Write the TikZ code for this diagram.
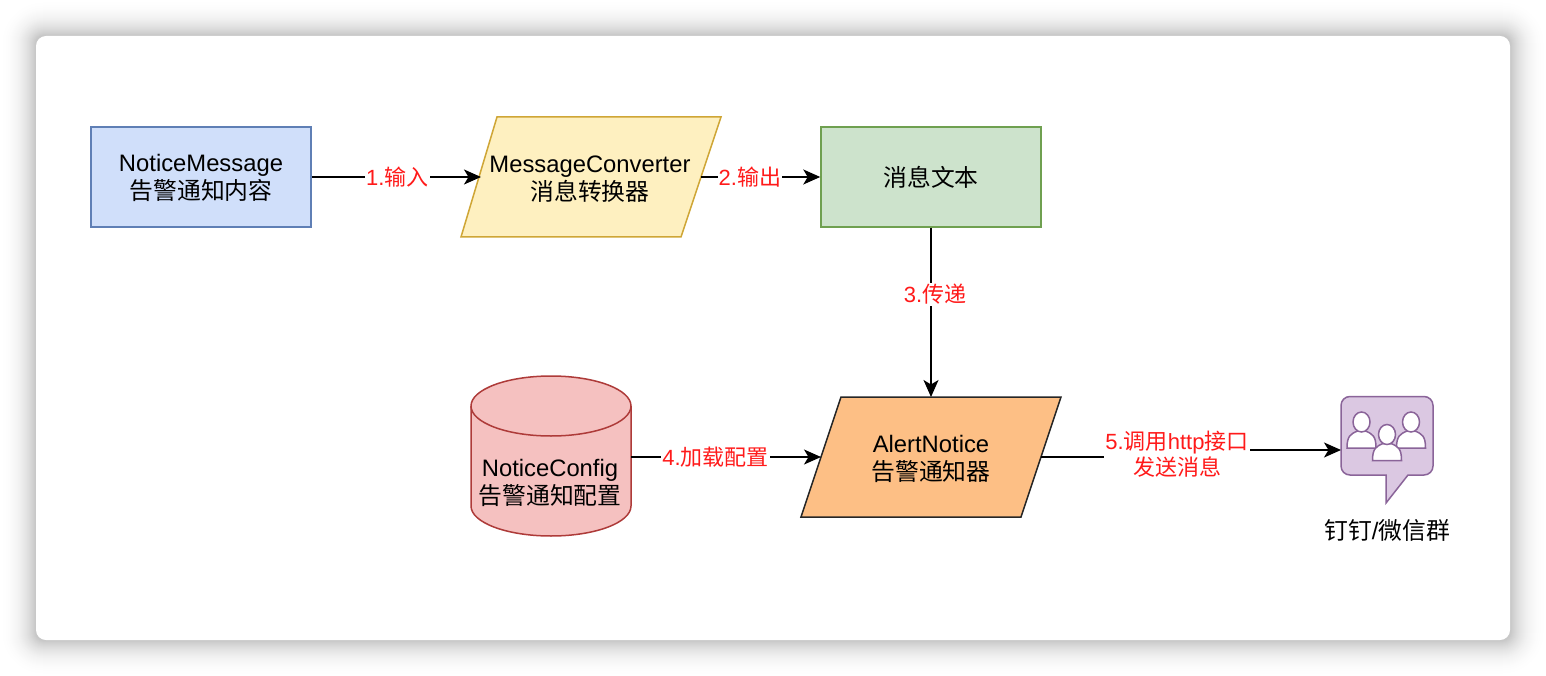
\documentclass[tikz,border=0pt]{standalone}
\usepackage{fontspec}
\setmainfont{Liberation Sans}
\newfontfamily\cjk{Noto Sans CJK SC}
\usetikzlibrary{arrows.meta}
\definecolor{bluefill}{HTML}{D0DFFA}\definecolor{bluestroke}{HTML}{5F7FB5}
\definecolor{yellowfill}{HTML}{FEF0C0}\definecolor{yellowstroke}{HTML}{CFA636}
\definecolor{greenfill}{HTML}{CDE3CC}\definecolor{greenstroke}{HTML}{6FA050}
\definecolor{redfill}{HTML}{F5C1C0}\definecolor{redstroke}{HTML}{AE3B39}
\definecolor{orangefill}{HTML}{FDBF85}
\definecolor{purplefill}{HTML}{DBC8E2}\definecolor{purplestroke}{HTML}{8A6499}
\definecolor{labelred}{HTML}{FF1A1A}
\tikzset{
  x=1pt,y=-1pt,
  box/.style={draw,line width=1.5pt,minimum width=220pt,minimum height=100pt,inner sep=0pt,align=center,font=\fontsize{23.8}{28}\selectfont},
  txt/.style={inner sep=0pt,align=center,font=\fontsize{23.8}{28}\selectfont},
  shp/.style={line width=1.5pt,line join=miter},
  conn/.style={line width=1.7pt,-{Stealth[length=17pt,width=15pt,inset=4.5pt]}},
  plainconn/.style={line width=1.7pt},
  lab/.style={fill=white,text=labelred,inner sep=1pt,align=center,font=\fontsize{22}{26}\selectfont},
  person/.style={draw=purplestroke,fill=white,line width=1.5pt},
}
\begin{document}
\begin{tikzpicture}
\useasboundingbox (0,0) rectangle (1546,676);
\fill[white] (0,0) rectangle (1546,676);
% soft shadow of the panel
\foreach \i in {36,35,...,1}{
  \pgfmathsetmacro{\d}{23*(1-\i/37)*(1-\i/37)*(1-0.35*\i/37)}
  \fill[black!\d!white,rounded corners=\i pt+8pt] (36-\i,36-\i) rectangle (1510+\i,640+\i);
}
\fill[white,rounded corners=10pt] (36,36) rectangle (1510,640);

% parallelogram and cylinder outlines
\draw[shp,draw=yellowstroke,fill=yellowfill] (497,117) -- (721,117) -- (681,237) -- (461,237) -- cycle;
\draw[shp,draw=black!85,fill=orangefill] (841,397) -- (1061,397) -- (1021,517) -- (801,517) -- cycle;
\draw[shp,draw=redstroke,fill=redfill] (471,406) -- (471,506)
  .. controls (471,522.6) and (506.8,536) .. (551,536)
  .. controls (595.2,536) and (631,522.6) .. (631,506) -- (631,406)
  .. controls (631,389.4) and (595.2,376) .. (551,376)
  .. controls (506.8,376) and (471,389.4) .. (471,406) -- cycle;
\draw[shp,draw=redstroke] (471,406)
  .. controls (471,422.6) and (506.8,436) .. (551,436)
  .. controls (595.2,436) and (631,422.6) .. (631,406);

% nodes
\node[box,draw=bluestroke,fill=bluefill] (msg) at (201,177) {\rule{0pt}{20pt}NoticeMessage\\{\cjk 告警通知内容}};
\node[txt] (conv) at (590,179) {MessageConverter\\{\cjk 消息转换器}};
\node[box,draw=greenstroke,fill=greenfill] (text) at (931,177) {\cjk 消息文本};
\node[txt] (cfg) at (550,483) {NoticeConfig\\{\cjk 告警通知配置}};
\node[txt] (alert) at (931,459) {AlertNotice\\{\cjk 告警通知器}};
\node[txt] (grp) at (1387,530) {{\cjk 钉钉}/{\cjk 微信群}};

% chat icon
\draw[shp,draw=purplestroke,fill=purplefill]
  (1350,396.5) -- (1424,396.5) .. controls (1429,396.5) and (1433,400.5) .. (1433,405.5)
  -- (1433,466) .. controls (1433,471) and (1429,475) .. (1424,475)
  -- (1408,475) -- (1386,503) -- (1386,475) -- (1350,475)
  .. controls (1345,475) and (1341,471) .. (1341,466) -- (1341,405.5)
  .. controls (1341,400.5) and (1345,396.5) .. (1350,396.5) -- cycle;
\coordinate (iconL) at (1341,450);
\foreach \cx/\cy in {1361.5/422,1411/422,1387/434.5}{
  \draw[person] (\cx-14.5,\cy+26) .. controls (\cx-14.5,\cy+14) and (\cx-11,\cy+12) .. (\cx-4,\cy+9)
    -- (\cx+4,\cy+9) .. controls (\cx+11,\cy+12) and (\cx+14.5,\cy+14) .. (\cx+14.5,\cy+26) -- cycle;
  \draw[person] (\cx,\cy) ellipse[x radius=8.5,y radius=10];
}

% free connector ends on the slanted and cylinder sides
\coordinate (convL) at (481,177);
\coordinate (convR) at (701,177);
\coordinate (alertT) at (931,397);
\coordinate (alertL) at (821,457);
\coordinate (alertR) at (1041,457);
\coordinate (cfgR) at (631,457);
\coordinate (bend1) at (1177,457);
\coordinate (bend2) at (1177,450);

% connectors
\draw[conn] (msg.east) -- (convL) node[lab,pos=.5,xshift=1pt] (l1) {1.{\cjk 输入}};
\draw[conn] (convR) -- (text.west) node[lab,pos=.41] (l2) {2.{\cjk 输出}};
\draw[conn] (text.south) -- (alertT) node[lab,pos=.395,xshift=4pt] (l3) {3.{\cjk 传递}};
\draw[conn] (cfgR) -- (alertL) node[lab,pos=.44,xshift=1pt] (l4) {4.{\cjk 加载配置}};
\draw[plainconn] (alertR) -- (bend1) -- (bend2);
\draw[conn] (bend2) -- (iconL);
\node[lab] (l5) at (1177,454) {5.{\cjk 调用}http{\cjk 接口}\\{\cjk 发送消息}};
\end{tikzpicture}
\end{document}
